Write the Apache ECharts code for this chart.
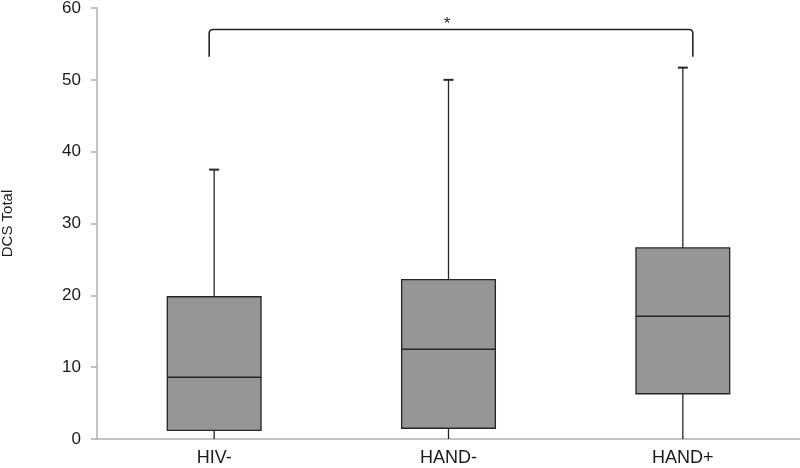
<!DOCTYPE html>
<html><head><meta charset="utf-8">
<script src="https://cdn.jsdelivr.net/npm/echarts@6/dist/echarts.min.js"></script>
<style>html,body{margin:0;padding:0;background:#fff}#c{width:800px;height:468px}</style>
</head><body><div id="c"></div>
<script>
var categories = ['HIV-', 'HAND-', 'HAND+'];
var whiskerMin = [0, 0, 0];
var q1 = [1.2, 1.5, 6.3];
var median = [8.6, 12.5, 17.1];
var q3 = [19.8, 22.2, 26.6];
var whiskerMax = [37.5, 50.0, 51.7];
var yTicks = [0, 10, 20, 30, 40, 50, 60];
var bracket = {from: 0, to: 2, top: 57.0, bottom: 53.2, label: '*'};

var chart = echarts.init(document.getElementById('c'), null, {renderer: 'canvas'});
var data = categories.map(function (c, i) {
  return [i, whiskerMin[i], q1[i], median[i], q3[i], whiskerMax[i]];
});
var stroke = '#262626';
var FONT = '"Liberation Sans", Arial, sans-serif';
function renderBox(params, api) {
  var i = api.value(0);
  var pMin = api.coord([i, api.value(1)]);
  var pQ1 = api.coord([i, api.value(2)]);
  var pMed = api.coord([i, api.value(3)]);
  var pQ3 = api.coord([i, api.value(4)]);
  var pMax = api.coord([i, api.value(5)]);
  var bw = api.size([1, 0])[0] * 0.4;
  var x = pMed[0];
  var ls = {stroke: stroke, lineWidth: 1.3};
  return {type: 'group', children: [
    {type: 'line', shape: {x1: x, y1: pMin[1], x2: x, y2: pQ1[1]}, style: ls},
    {type: 'line', shape: {x1: x, y1: pQ3[1], x2: x, y2: pMax[1]}, style: ls},
    {type: 'line', shape: {x1: x - 5, y1: pMax[1], x2: x + 5, y2: pMax[1]}, style: {stroke: stroke, lineWidth: 2}},
    {type: 'rect', shape: {x: x - bw / 2, y: pQ3[1], width: bw, height: pQ1[1] - pQ3[1]},
      style: {fill: '#969696', stroke: stroke, lineWidth: 1.3}},
    {type: 'line', shape: {x1: x - bw / 2, y1: pMed[1], x2: x + bw / 2, y2: pMed[1]}, style: {stroke: stroke, lineWidth: 1.5}}
  ]};
}
function renderBracket(params, api) {
  var a = api.coord([bracket.from, bracket.top]);
  var b = api.coord([bracket.to, bracket.top]);
  var yb = api.coord([bracket.from, bracket.bottom])[1];
  var x1 = a[0] - 5, x2 = b[0] + 10, y = a[1], r = 4;
  var path = 'M' + x1 + ' ' + yb + ' L' + x1 + ' ' + (y + r) + ' Q' + x1 + ' ' + y + ' ' + (x1 + r) + ' ' + y +
    ' L' + (x2 - r) + ' ' + y + ' Q' + x2 + ' ' + y + ' ' + x2 + ' ' + (y + r) + ' L' + x2 + ' ' + yb;
  return {type: 'group', children: [
    {type: 'path', shape: {pathData: path}, style: {stroke: stroke, lineWidth: 1.6, fill: null}},
    {type: 'text', x: (x1 + x2) / 2 - 4, y: y + 3, style: {text: bracket.label, fill: stroke,
      font: '17px ' + FONT, textAlign: 'center', textVerticalAlign: 'bottom'}}
  ]};
}
chart.setOption({
  animation: false,
  grid: {left: 97, right: 0, top: 8, bottom: 29, containLabel: false, outerBoundsMode: 'none'},
  xAxis: {
    type: 'category', data: categories,
    axisLine: {lineStyle: {color: '#b0b0b0', width: 1.5}},
    axisTick: {show: false},
    axisLabel: {color: '#1a1a1a', fontSize: 18, margin: 10, fontFamily: FONT}
  },
  yAxis: {
    type: 'value', min: 0, max: 60, interval: 10,
    name: 'DCS Total', nameLocation: 'middle', nameGap: 82, nameRotate: 90,
    nameTextStyle: {color: '#1a1a1a', fontSize: 15, fontFamily: FONT},
    axisLine: {show: true, lineStyle: {color: '#b0b0b0', width: 1.5}},
    axisTick: {show: true, length: 6, lineStyle: {color: '#b0b0b0', width: 1.5}},
    splitLine: {show: false},
    axisLabel: {color: '#1a1a1a', fontSize: 17, margin: 16, fontFamily: FONT,
      formatter: function (v) { return yTicks.indexOf(v) >= 0 ? String(v) : ''; }}
  },
  series: [
    {type: 'custom', renderItem: renderBox, data: data, encode: {x: 0, y: [1, 2, 3, 4, 5]}, clip: false},
    {type: 'custom', renderItem: renderBracket, data: [[bracket.from, bracket.top]], encode: {x: 0, y: 1}, clip: false}
  ]
});
</script></body></html>
